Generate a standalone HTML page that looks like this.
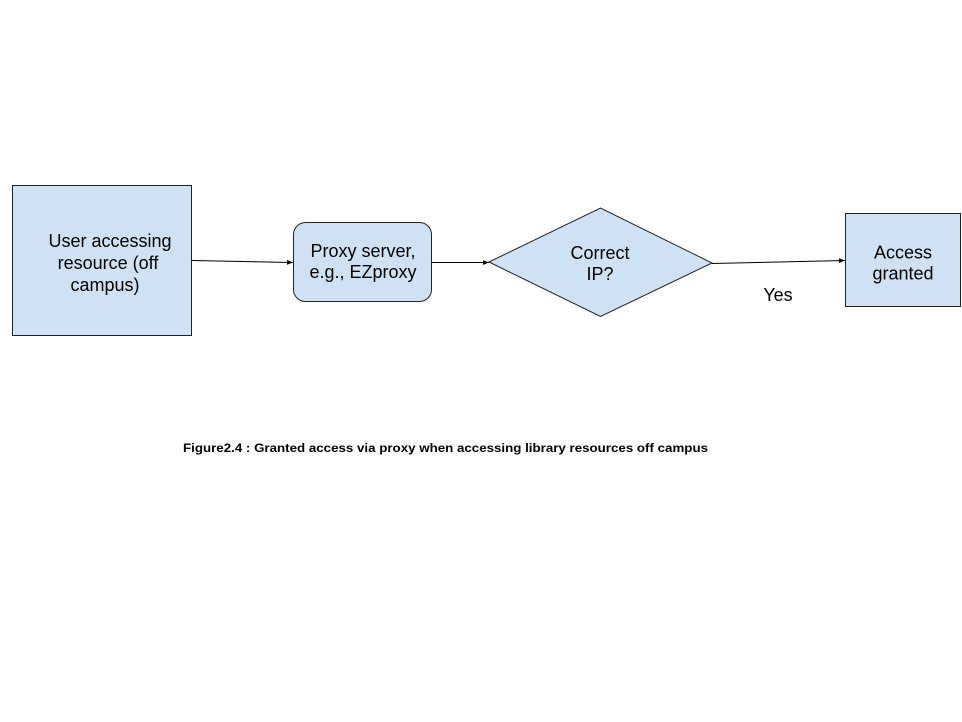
<!DOCTYPE html>
<html>
<head>
<meta charset="utf-8">
<style>
html,body{margin:0;padding:0;background:#fff;}
svg{display:block;}
text{font-family:"Liberation Sans",Arial,sans-serif;fill:#000;}
</style>
</head>
<body>
<svg width="962" height="722" viewBox="0 0 962 722" xmlns="http://www.w3.org/2000/svg">
  <defs>
    <marker id="ah" viewBox="0 0 10 10" refX="10" refY="5" markerWidth="6" markerHeight="6" orient="auto" markerUnits="userSpaceOnUse">
      <path d="M0,1 L10,5 L0,9 Z" fill="#000"/>
    </marker>
  </defs>

  <!-- Box 1 -->
  <rect x="12.5" y="185.5" width="179" height="150" fill="#cfe2f3" stroke="#222" stroke-width="1"/>
  <text font-size="18" x="110" y="247" text-anchor="middle">User accessing</text>
  <text font-size="18" x="108" y="269" text-anchor="middle">resource (off</text>
  <text font-size="18" x="105" y="291" text-anchor="middle">campus)</text>

  <!-- Box 2 rounded -->
  <rect x="293.5" y="222.5" width="138" height="79" rx="12" ry="12" fill="#cfe2f3" stroke="#222" stroke-width="1"/>
  <text font-size="18" x="363" y="257" text-anchor="middle">Proxy server,</text>
  <text font-size="18" x="363" y="278" text-anchor="middle">e.g., EZproxy</text>

  <!-- Diamond -->
  <polygon points="489,262 600.5,208 712,263 600.5,316.5" fill="#cfe2f3" stroke="#222" stroke-width="1"/>
  <text font-size="18" x="600" y="259" text-anchor="middle">Correct</text>
  <text font-size="18" x="600" y="280" text-anchor="middle">IP?</text>

  <!-- Box 4 -->
  <rect x="845.5" y="213.5" width="115" height="93" fill="#cfe2f3" stroke="#222" stroke-width="1"/>
  <text font-size="18" x="903" y="258.5" text-anchor="middle">Access</text>
  <text font-size="18" x="903" y="279.5" text-anchor="middle">granted</text>

  <!-- Connectors -->
  <line x1="191.5" y1="260.5" x2="293" y2="262.5" stroke="#000" stroke-width="1" marker-end="url(#ah)"/>
  <line x1="431.5" y1="262.5" x2="489" y2="262.5" stroke="#000" stroke-width="1" marker-end="url(#ah)"/>
  <line x1="712" y1="263.5" x2="845" y2="260.5" stroke="#000" stroke-width="1" marker-end="url(#ah)"/>

  <text font-size="18" x="778" y="301" text-anchor="middle">Yes</text>

  <!-- Caption -->
  <text font-size="12" font-weight="bold" x="183" y="452" textLength="525" lengthAdjust="spacingAndGlyphs">Figure2.4 : Granted access via proxy when accessing library resources off campus</text>
</svg>
</body>
</html>
